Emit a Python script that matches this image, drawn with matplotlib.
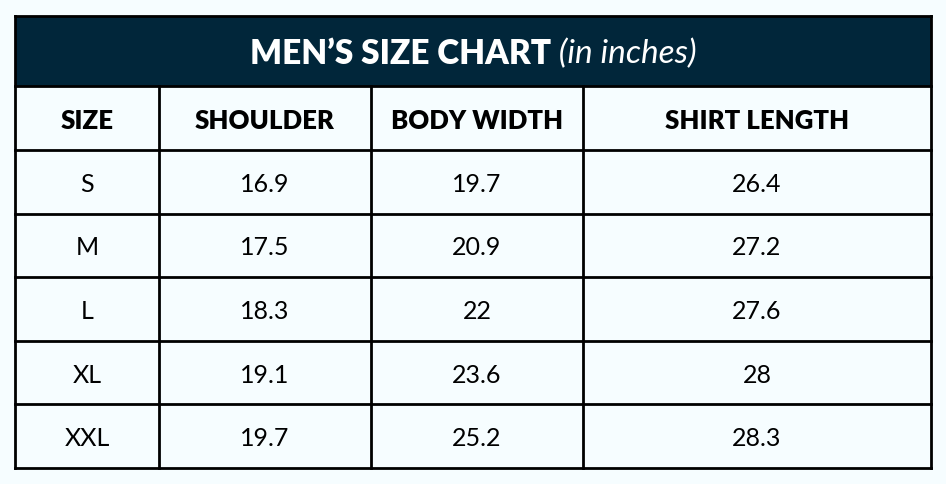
import matplotlib
matplotlib.use("Agg")
import matplotlib.pyplot as plt

title_main = "MEN’S SIZE CHART"
title_sub = "(in inches)"
columns = ["SIZE", "SHOULDER", "BODY WIDTH", "SHIRT LENGTH"]
sizes = ["S", "M", "L", "XL", "XXL"]
shoulder = ["16.9", "17.5", "18.3", "19.1", "19.7"]
body_width = ["19.7", "20.9", "22", "23.6", "25.2"]
shirt_length = ["26.4", "27.2", "27.6", "28", "28.3"]

W, H = 946, 484
BG = "#f6fdff"
NAVY = "#01263a"
FONT = "Lato"

fig = plt.figure(figsize=(W / 100, H / 100), dpi=100, facecolor=BG)
ax = fig.add_axes([0, 0, 1, 1])
ax.set_xlim(0, W)
ax.set_ylim(H, 0)
ax.axis("off")
ax.set_facecolor(BG)

left, right = 15, 931
top, head_bot, colhead_bot, bottom = 16, 86, 150, 468
col_x = [left, 159, 371, 583, right]
n = len(sizes)
row_h = (bottom - colhead_bot) / n
row_y = [colhead_bot + i * row_h for i in range(n + 1)]

# title band
ax.add_patch(plt.Rectangle((left, top), right - left, head_bot - top,
                           facecolor=NAVY, edgecolor="none", zorder=1))

lw = 2.0
for y in [top, head_bot, colhead_bot] + row_y[1:]:
    ax.plot([left, right], [y, y], color="black", lw=lw, zorder=3,
            solid_capstyle="projecting")
ax.plot([left, left], [top, bottom], color="black", lw=lw, zorder=3, solid_capstyle="projecting")
ax.plot([right, right], [top, bottom], color="black", lw=lw, zorder=3, solid_capstyle="projecting")
for x in col_x[1:-1]:
    ax.plot([x, x], [head_bot, bottom], color="black", lw=lw, zorder=3)

fig.canvas.draw()
r = fig.canvas.get_renderer()
ty = (top + head_bot) / 2 + 3
t1 = ax.text(0, ty, title_main, color="white", fontsize=24, fontweight="heavy",
             family=FONT, va="center", ha="left", zorder=4)
t2 = ax.text(0, ty, " " + title_sub, color="white", fontsize=24, style="italic",
             family=FONT, va="center", ha="left", zorder=4)
w1 = t1.get_window_extent(r).width
w2 = t2.get_window_extent(r).width
cx = (left + right) / 2
x0 = cx - (w1 + w2) / 2
t1.set_x(x0)
t2.set_x(x0 + w1)

centers = [(col_x[i] + col_x[i + 1]) / 2 for i in range(4)]
hy = (head_bot + colhead_bot) / 2 + 3
for c, label in zip(centers, columns):
    ax.text(c, hy, label, fontsize=18.5, fontweight="heavy", family=FONT,
            ha="center", va="center", color="black", zorder=4)

cols = [sizes, shoulder, body_width, shirt_length]
for i in range(n):
    yc = (row_y[i] + row_y[i + 1]) / 2 + 2.5
    for c, col in zip(centers, cols):
        ax.text(c, yc, col[i], fontsize=18, family=FONT, ha="center",
                va="center", color="black", zorder=4)

fig.savefig("out.png", dpi=100, facecolor=BG)
